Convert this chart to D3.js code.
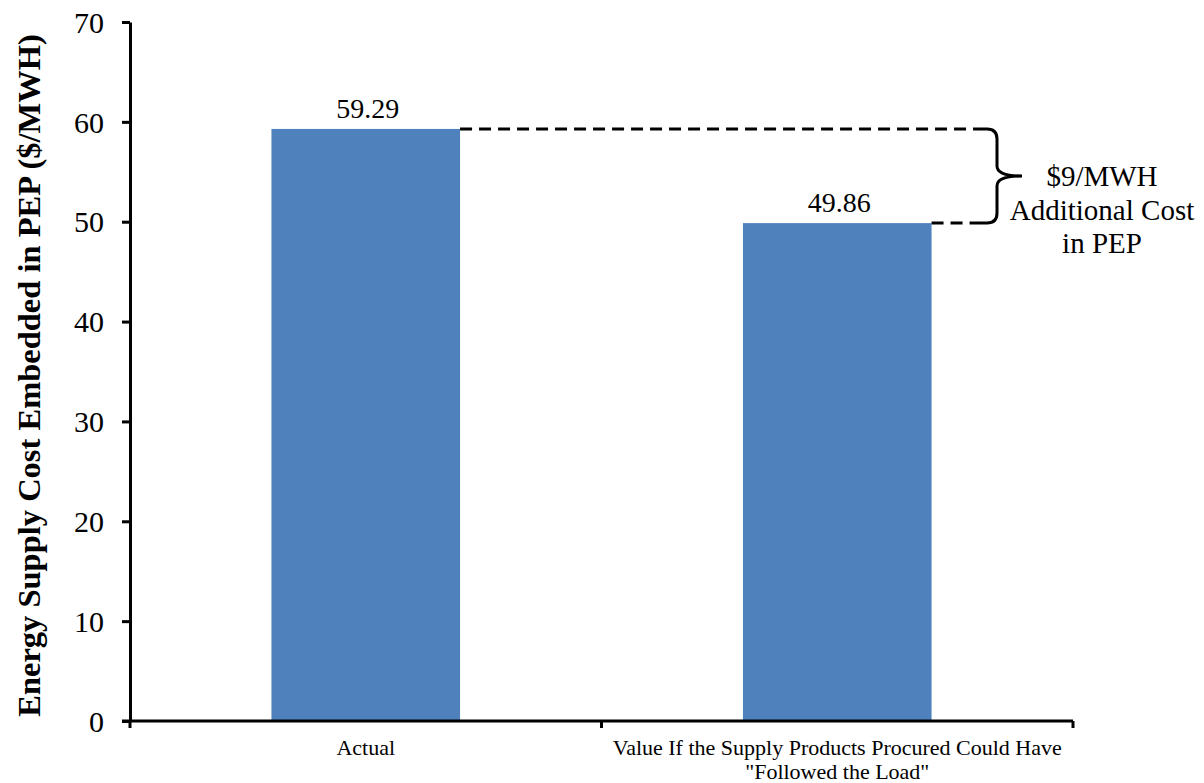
<!DOCTYPE html>
<html>
<head>
<meta charset="utf-8">
<script src="https://cdn.jsdelivr.net/npm/d3@7"></script>
<style>
  html, body { margin: 0; padding: 0; background: #fff; }
  svg { display: block; }
</style>
</head>
<body>
<svg id="chart" width="1204" height="783"></svg>
<script>
// Energy supply cost embedded in PEP ($/MWH)
const categories = ["Actual", "Value If the Supply Products Procured Could Have\n\"Followed the Load\""];
const values = [59.29, 49.86];
const yTicks = [0, 10, 20, 30, 40, 50, 60, 70];
const yTitle = "Energy Supply Cost Embedded in PEP ($/MWH)";
const noteLines = ["$9/MWH", "Additional Cost", "in PEP"];

const FONT = "'Liberation Serif', 'Times New Roman', Times, serif";

const svg = d3.select("#chart").attr("font-family", FONT);
const margin = { left: 130, right: 131, top: 22, bottom: 62 };
const W = 1204, H = 783;

const x = d3.scaleBand()
  .domain(categories)
  .range([margin.left, W - margin.right])
  .padding(0);

const y = d3.scaleLinear()
  .domain([0, 70])
  .range([H - margin.bottom, margin.top]);

const barFrac = 0.4;

// Bars
svg.append("g").selectAll("rect")
  .data(values)
  .join("rect")
  .attr("x", (d, i) => x(categories[i]) + x.bandwidth() * (1 - barFrac) / 2)
  .attr("width", x.bandwidth() * barFrac)
  .attr("y", d => y(d))
  .attr("height", d => y(0) - y(d))
  .attr("fill", "#4F81BD");

// Value labels
svg.append("g").selectAll("text")
  .data(values)
  .join("text")
  .attr("x", (d, i) => x(categories[i]) + x.bandwidth() / 2 + 2)
  .attr("y", d => y(d) - 11)
  .attr("text-anchor", "middle")
  .attr("font-family", FONT)
  .attr("font-size", 28)
  .attr("fill", "#000")
  .text(d => d.toFixed(2));

// Y axis
const yAxis = svg.append("g")
  .attr("transform", `translate(${margin.left},0)`)
  .call(d3.axisLeft(y).tickValues(yTicks).tickSize(8).tickSizeOuter(0).tickPadding(18));
yAxis.attr("font-family", FONT);
yAxis.select(".domain").attr("stroke", "#000").attr("stroke-width", 3);
yAxis.selectAll(".tick line").attr("stroke", "#000").attr("stroke-width", 3);
yAxis.selectAll(".tick text")
  .attr("font-size", 30)
  .attr("font-family", FONT)
  .attr("dy", "0.34em")
  .attr("fill", "#000");

// X axis
const xAxisY = y(0);
const xAxis = svg.append("g").attr("transform", `translate(0,${xAxisY})`);
xAxis.append("line")
  .attr("x1", margin.left - 8).attr("x2", W - margin.right)
  .attr("stroke", "#000").attr("stroke-width", 3);
// boundary ticks between categories
const bounds = categories.map(c => x(c)).concat([x(categories[categories.length - 1]) + x.bandwidth()]);
xAxis.selectAll("line.bt")
  .data(bounds)
  .join("line")
  .attr("class", "bt")
  .attr("x1", d => d).attr("x2", d => d)
  .attr("y1", 0).attr("y2", 7)
  .attr("stroke", "#000").attr("stroke-width", 3);

// Category labels
categories.forEach(c => {
  const lines = c.split("\n");
  const t = svg.append("text")
    .attr("x", x(c) + x.bandwidth() / 2)
    .attr("y", xAxisY + 34)
    .attr("text-anchor", "middle")
    .attr("font-family", FONT)
    .attr("font-size", 22)
    .attr("fill", "#000");
  lines.forEach((ln, i) => {
    t.append("tspan")
      .attr("x", x(c) + x.bandwidth() / 2)
      .attr("dy", i === 0 ? 0 : 24)
      .text(ln);
  });
});

// Y axis title
svg.append("text")
  .attr("transform", `translate(40,${(y(0) + y(70)) / 2 + 4}) rotate(-90)`)
  .attr("text-anchor", "middle")
  .attr("font-family", FONT)
  .attr("font-size", 32.5)
  .attr("font-weight", "bold")
  .attr("fill", "#000")
  .text(yTitle);

// Difference annotation: dashed guides and brace
const braceX = 974;
const yTop = y(values[0]);
const yBot = y(values[1]);
const bar0Right = x(categories[0]) + x.bandwidth() * (1 + barFrac) / 2;
const bar1Right = x(categories[1]) + x.bandwidth() * (1 + barFrac) / 2;

svg.append("line")
  .attr("x1", bar0Right).attr("x2", braceX)
  .attr("y1", yTop).attr("y2", yTop)
  .attr("stroke", "#000").attr("stroke-width", 3)
  .attr("stroke-dasharray", "12,7");
svg.append("line")
  .attr("x1", bar1Right).attr("x2", braceX)
  .attr("y1", yBot).attr("y2", yBot)
  .attr("stroke", "#000").attr("stroke-width", 3)
  .attr("stroke-dasharray", "12,7");

const ym = (yTop + yBot) / 2;
const bx = 997, tip = 1022, r = 10;
const brace = d3.path();
brace.moveTo(braceX, yTop);
brace.lineTo(bx - r, yTop);
brace.quadraticCurveTo(bx, yTop, bx, yTop + r);
brace.lineTo(bx, ym - r);
brace.quadraticCurveTo(bx, ym, tip, ym);
brace.moveTo(braceX, yBot);
brace.lineTo(bx - r, yBot);
brace.quadraticCurveTo(bx, yBot, bx, yBot - r);
brace.lineTo(bx, ym + r);
brace.quadraticCurveTo(bx, ym, tip, ym);
svg.append("path")
  .attr("d", brace.toString())
  .attr("fill", "none")
  .attr("stroke", "#000")
  .attr("stroke-width", 3);

const note = svg.append("text")
  .attr("x", 1102)
  .attr("y", ym + 10)
  .attr("text-anchor", "middle")
  .attr("font-family", FONT)
  .attr("font-size", 29)
  .attr("fill", "#000");
noteLines.forEach((ln, i) => {
  note.append("tspan")
    .attr("x", 1102)
    .attr("dy", i === 0 ? 0 : 33.5)
    .text(ln);
});
</script>
</body>
</html>
